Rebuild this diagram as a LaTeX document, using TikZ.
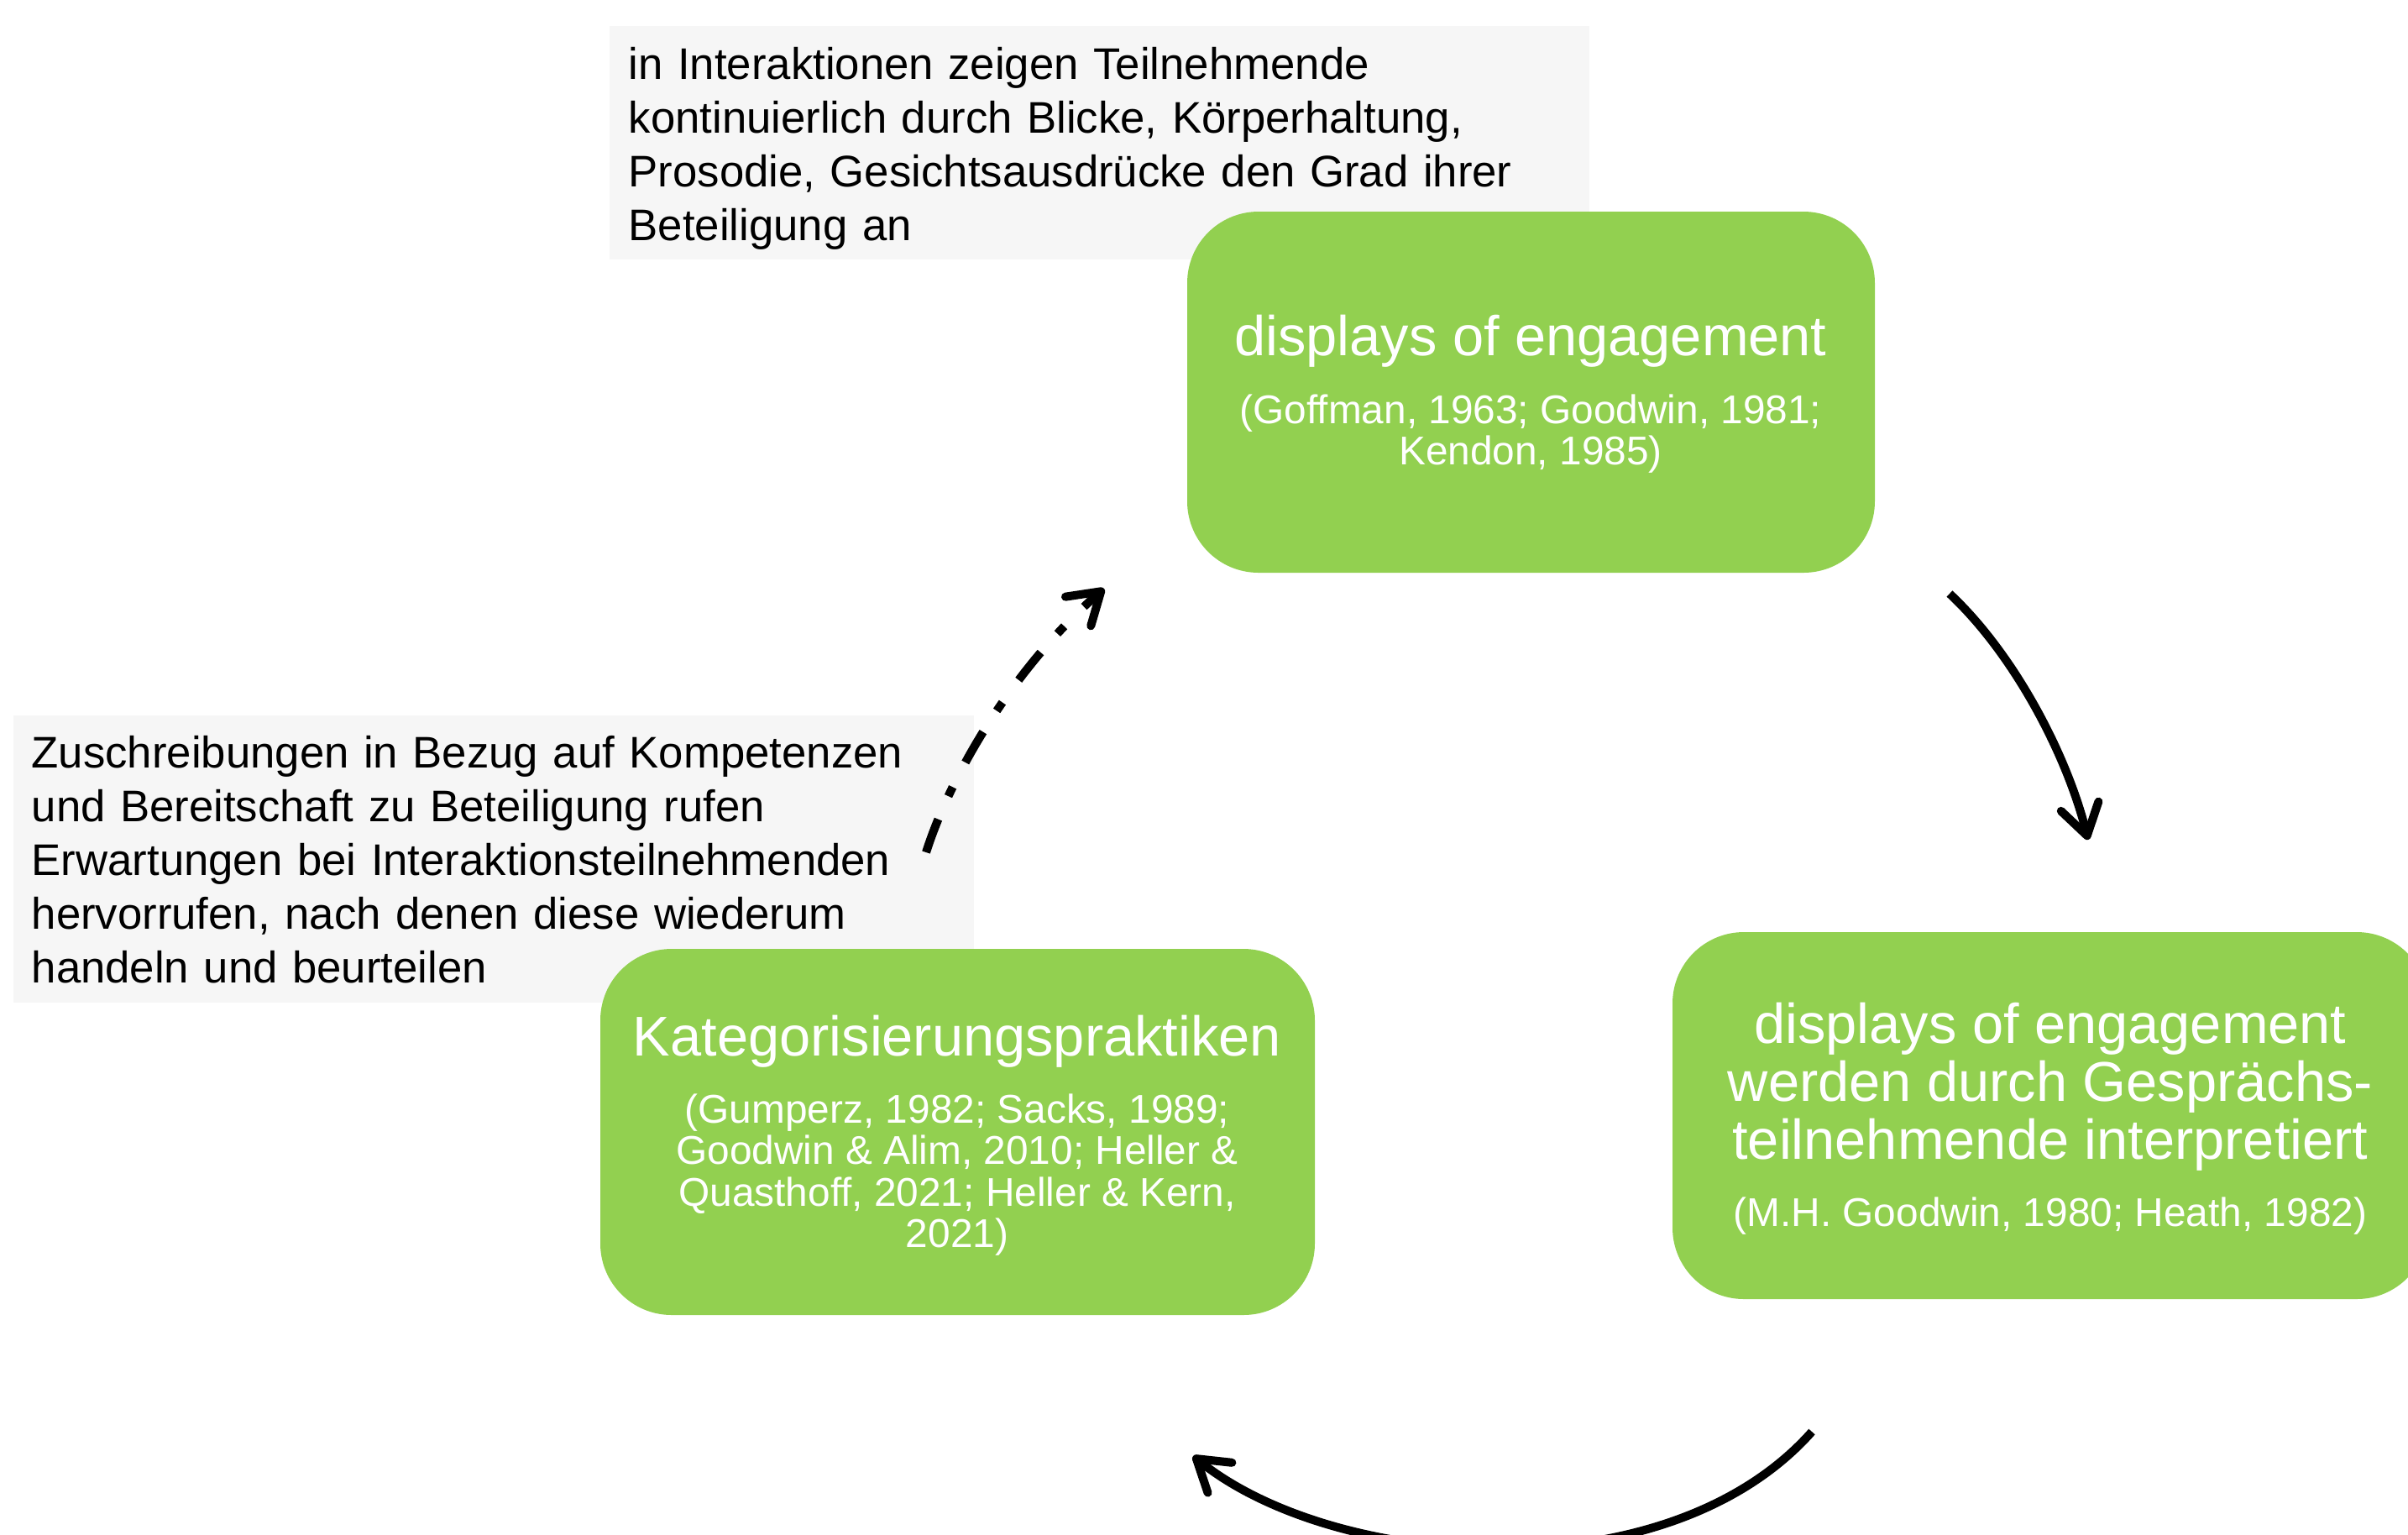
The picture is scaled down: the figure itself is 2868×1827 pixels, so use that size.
\documentclass[tikz,border=0pt]{standalone}
\usepackage{fontspec}
\setmainfont{Liberation Sans}
\usetikzlibrary{arrows.meta}
\definecolor{boxgreen}{HTML}{92D050}
\definecolor{notegray}{HTML}{F6F6F6}
\begin{document}
\begin{tikzpicture}[x=0.1mm,y=-0.1mm,
  gbox/.style={fill=boxgreen, draw=none, rounded corners=8.5mm, inner sep=0pt},
  notebox/.style={fill=notegray, draw=none, inner sep=0pt},
  notetext/.style={inner sep=0pt, align=left, anchor=west,
    font=\fontsize{15}{18.2}\selectfont},
  ttl/.style={text=white, align=center, inner sep=0pt, font=\fontsize{19}{19.7}\selectfont},
  cite/.style={text=white, align=center, inner sep=0pt, font=\fontsize{13.6}{14}\selectfont},
  arr/.style={line width=1mm, -{Straight Barb[length=3.6mm,width=4.6mm,round]}},
]
\useasboundingbox (0,0) rectangle (2868,1827);

% grey notes
\node[notebox, minimum width=116.7mm, minimum height=27.8mm] (notetop) at (1309.5,170) {};
\node[notetext, text width=112.3mm] (notetoptext) at (748,177)
  {in Interaktionen zeigen Teilnehmende\\
   kontinuierlich durch Blicke, Körperhaltung,\\
   Prosodie, Gesichtsausdrücke den Grad ihrer\\
   Beteiligung an};
\node[notebox, minimum width=114.4mm, minimum height=34.2mm] (noteleft) at (588,1023) {};
\node[notetext, text width=110.2mm] (notelefttext) at (37,1024)
  {Zuschreibungen in Bezug auf Kompetenzen\\
   und Bereitschaft zu Beteiligung rufen\\
   Erwartungen bei Interaktionsteilnehmenden\\
   hervorrufen, nach denen diese wiederum\\
   handeln und beurteilen};

% green boxes
\node[gbox, minimum width=81.9mm, minimum height=43mm] (top) at (1823.5,467) {};
\node[gbox, minimum width=90mm, minimum height=43.7mm] (right) at (2442,1328.5) {};
\node[gbox, minimum width=85.1mm, minimum height=43.6mm] (left) at (1140.5,1348) {};

\node[ttl] (toptitle) at (1823,406) {displays of engagement};
\node[cite] (topcite) at (1823,517) {(Goffman, 1963; Goodwin, 1981;\\Kendon, 1985)};

\node[ttl] (righttitle) at (2442,1294) {displays of engagement\\werden durch Gesprächs-\\teilnehmende interpretiert};
\node[cite] (rightcite) at (2442,1448) {(M.H. Goodwin, 1980; Heath, 1982)};

\node[ttl] (lefttitle) at (1140,1240) {Kategorisierungspraktiken};
\node[cite] (leftcite) at (1140,1399) {(Gumperz, 1982; Sacks, 1989;\\Goodwin \& Alim, 2010; Heller \&\\Quasthoff, 2021; Heller \& Kern,\\2021)};

% arrow end points
\coordinate (a1s) at (2322,707);
\coordinate (a1e) at (2487,1000);
\coordinate (a2s) at (2158,1705);
\coordinate (a2e) at (1421,1734);
\coordinate (a3s) at (1103,1015);
\coordinate (a3e) at (1315,701);

\draw[arr] (a1s) .. controls (2400,780) and (2462,900) .. (a1e);
\draw[arr] (a2s) .. controls (1985,1900) and (1590,1870) .. (a2e);
\draw[arr, dash pattern=on 4.2mm off 3mm on 1.2mm off 3.3mm] (a3s) .. controls (1135,915) and (1212,791) .. (a3e);
\end{tikzpicture}
\end{document}
